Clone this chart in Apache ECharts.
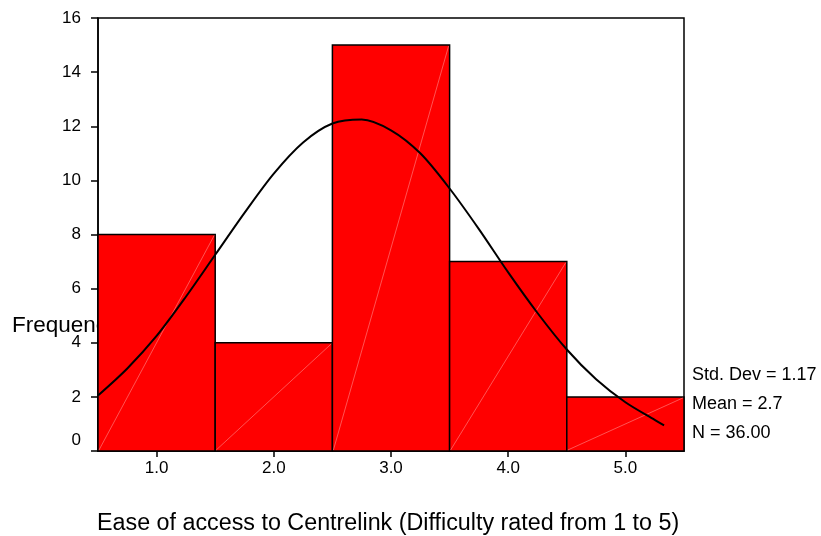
<!DOCTYPE html>
<html>
<head>
<meta charset="utf-8">
<script src="https://cdn.jsdelivr.net/npm/echarts@6/dist/echarts.min.js"></script>
<style>
html,body{margin:0;padding:0;background:#fff;}
#chart{width:821px;height:536px;}
</style>
</head>
<body>
<div id="chart"></div>
<script>
// Histogram data
const binCenters = [1, 2, 3, 4, 5];
const binLabels = ['1.0', '2.0', '3.0', '4.0', '5.0'];
const frequencies = [8, 4, 15, 7, 2];
// Normal curve
const curveX = [0.5, 0.75, 1.0, 1.25, 1.5, 1.75, 2.0, 2.25, 2.5, 2.75, 3.0, 3.25, 3.5, 3.75, 4.0, 4.25, 4.5, 4.75, 5.0, 5.25, 5.33];
const curveY = [2.05, 3.05, 4.25, 5.7, 7.25, 8.8, 10.25, 11.4, 12.1, 12.25, 11.85, 11.0, 9.7, 8.2, 6.6, 5.1, 3.75, 2.65, 1.8, 1.15, 0.95];
const yTicks = [0, 2, 4, 6, 8, 10, 12, 14, 16];
const statsLines = ['Std. Dev = 1.17', 'Mean = 2.7', 'N = 36.00'];
const xTitle = 'Ease of access to Centrelink (Difficulty rated from 1 to 5)';
const yTitle = 'Frequency';

const FONT = "'Liberation Sans', Arial, sans-serif";
const chart = echarts.init(document.getElementById('chart'), null, {renderer: 'canvas'});

const barData = binCenters.map((c, i) => [c, frequencies[i]]);
const curveData = curveX.map((x, i) => [x, curveY[i]]);

const option = {
  backgroundColor: '#fff',
  animation: false,
  grid: {left: 98, right: 137, top: 18, bottom: 85, show: true, borderColor: '#000', borderWidth: 1.5, backgroundColor: 'transparent'},
  xAxis: {
    type: 'value', min: 0.5, max: 5.5,
    splitLine: {show: false},
    axisLine: {show: true, onZero: false, lineStyle: {color: '#000', width: 1.5}},
    axisTick: {show: true, customValues: binCenters, length: 6, lineStyle: {color: '#000', width: 1.5}},
    axisLabel: {show: true, customValues: binCenters, margin: 9, fontSize: 17, color: '#000', fontFamily: FONT,
      formatter: v => binLabels[binCenters.indexOf(Math.round(v))] || ''}
  },
  yAxis: {
    type: 'value', min: 0, max: 16, interval: 2,
    splitLine: {show: false},
    axisLine: {show: true, lineStyle: {color: '#000', width: 1.5}},
    axisTick: {show: true, length: 7, lineStyle: {color: '#000', width: 1.5}},
    axisLabel: {margin: 17, fontSize: 17, color: '#000', fontFamily: FONT,
      formatter: v => v === 0 ? '{z|0}' : String(v),
      rich: {z: {fontSize: 17, fontFamily: FONT, color: '#000', padding: [0, 0, 22, 0]}}}
  },
  graphic: [
    {type: 'text', z: -10, left: 12, top: 314, style: {text: yTitle, font: '22.5px ' + FONT, fill: '#000'}},
    {type: 'text', left: 97, top: 512, style: {text: xTitle, font: '23.3px ' + FONT, fill: '#000'}},
    {type: 'text', left: 692, top: 366, style: {text: statsLines[0], font: '18px ' + FONT, fill: '#000'}},
    {type: 'text', left: 692, top: 395, style: {text: statsLines[1], font: '18px ' + FONT, fill: '#000'}},
    {type: 'text', left: 692, top: 424, style: {text: statsLines[2], font: '18px ' + FONT, fill: '#000'}}
  ],
  series: [
    {
      type: 'custom', z: 5,
      data: barData,
      renderItem: function (params, api) {
        const c = api.value(0), f = api.value(1);
        const p1 = api.coord([c - 0.5, f]);
        const p2 = api.coord([c + 0.5, 0]);
        return {
          type: 'group',
          children: [
            {type: 'rect', shape: {x: p1[0], y: p1[1], width: p2[0] - p1[0], height: p2[1] - p1[1]},
             style: {fill: '#ff0000', stroke: '#000', lineWidth: 1.5}},
            {type: 'line', shape: {x1: p1[0] + 1, y1: p2[1] - 1, x2: p2[0] - 1, y2: p1[1] + 1},
             style: {stroke: 'rgba(255,200,200,0.7)', lineWidth: 0.6}}
          ]
        };
      }
    },
    {
      type: 'line', z: 6, data: curveData, smooth: 0.3, symbol: 'none',
      lineStyle: {color: '#000', width: 2}
    }
  ]
};
chart.setOption(option);
</script>
</body>
</html>
